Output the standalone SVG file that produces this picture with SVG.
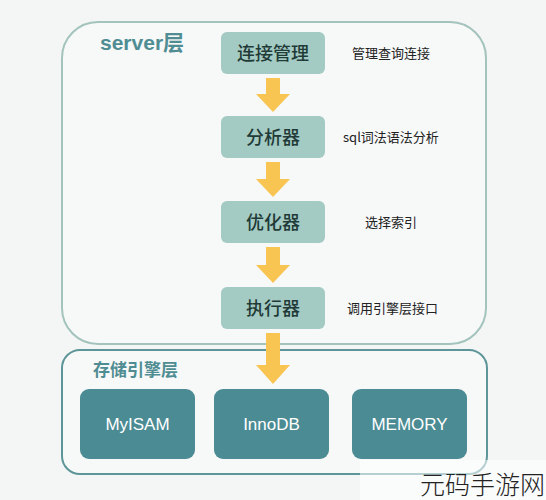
<svg xmlns="http://www.w3.org/2000/svg" width="546" height="500" viewBox="0 0 546 500">
<style>
.step{fill:#a3cbc3}
.steptxt{font-family:"Noto Sans CJK SC","Noto Sans",sans-serif;font-size:18px;fill:#1f3a37;text-anchor:middle;font-weight:500}
.note{font-family:"Noto Sans CJK SC","Noto Sans",sans-serif;font-size:13px;fill:#222}
.eng{fill:#4b8b93}
.engtxt{font-family:"Liberation Sans","Noto Sans CJK SC",sans-serif;font-size:17px;fill:#fff;text-anchor:middle}
.arrow{fill:#f8c553}
.title{font-family:"Liberation Sans","Noto Sans CJK SC",sans-serif;font-weight:bold;fill:#4f8d93}
</style>
<rect x="0" y="0" width="546" height="500" fill="#f4f5f5"/>
<g id="server-layer">
<rect x="62" y="22" width="424" height="322" rx="36" fill="#f7f8f8" stroke="#a3c3bd" stroke-width="2"/>
<text x="100" y="50" class="title" font-size="21">server层</text>
</g>
<g id="storage-layer">
<rect x="62" y="350" width="425" height="124" rx="18" fill="#f7f8f8" stroke="#5e9599" stroke-width="2"/>
<text x="93" y="376" class="title" font-size="17" fill="#3f7f86">存储引擎层</text>
</g>
<g id="connectors">
<path class="arrow" d="M266 78 H280 V94 H290 L273 112 L256 94 H266 Z"/>
<path class="arrow" d="M266 162 H280 V179 H290 L273 197 L256 179 H266 Z"/>
<path class="arrow" d="M266 247 H280 V265 H290 L273 283 L256 265 H266 Z"/>
<path class="arrow" d="M266 333 H280 V365 H290 L273 384 L256 365 H266 Z"/>
</g>
<g id="n-conn">
<rect class="step" x="221" y="32" width="104" height="42" rx="6"/>
<text class="steptxt" x="273" y="60">连接管理</text>
<text class="note" x="352" y="58">管理查询连接</text>
</g>
<g id="n-parse">
<rect class="step" x="221" y="116" width="104" height="42" rx="6"/>
<text class="steptxt" x="273" y="144">分析器</text>
<text class="note" x="343" y="142">sql词法语法分析</text>
</g>
<g id="n-opt">
<rect class="step" x="221" y="201" width="104" height="42" rx="6"/>
<text class="steptxt" x="273" y="229">优化器</text>
<text class="note" x="365" y="227">选择索引</text>
</g>
<g id="n-exec">
<rect class="step" x="221" y="287" width="104" height="42" rx="6"/>
<text class="steptxt" x="273" y="315">执行器</text>
<text class="note" x="347" y="313">调用引擎层接口</text>
</g>
<g id="n-myisam">
<rect class="eng" x="80" y="389" width="115" height="70" rx="9"/>
<text class="engtxt" x="137.5" y="430">MyISAM</text>
</g>
<g id="n-innodb">
<rect class="eng" x="214" y="389" width="115" height="70" rx="9"/>
<text class="engtxt" x="271.5" y="430">InnoDB</text>
</g>
<g id="n-memory">
<rect class="eng" x="352" y="389" width="115" height="70" rx="9"/>
<text class="engtxt" x="409.5" y="430">MEMORY</text>
</g>
<g id="watermark">
<rect x="360" y="460" width="186" height="40" fill="#ffffff" fill-opacity="0.55"/>
<text x="420" y="494" font-family="Noto Sans CJK SC,sans-serif" font-size="25" font-weight="300" fill="#222">元码手游网</text>
</g>
</svg>
